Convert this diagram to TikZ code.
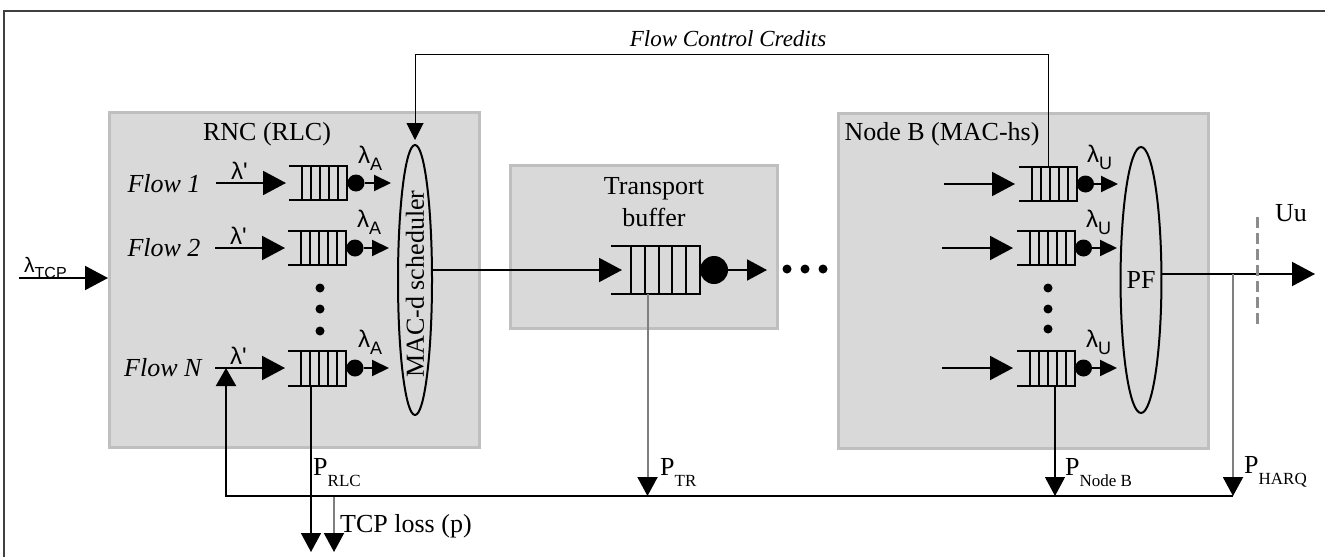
\documentclass[tikz,border=0pt]{standalone}
\usepackage{fontspec}
\setmainfont{Liberation Serif}
\newfontfamily\lsans{Liberation Sans}
\usetikzlibrary{arrows.meta,shapes.geometric,calc}
\definecolor{boxfill}{HTML}{D9D9D9}
\definecolor{boxline}{HTML}{BFBFBF}
\definecolor{lossgrey}{HTML}{7F7F7F}
\definecolor{uugrey}{HTML}{8C8C8C}
\definecolor{framegrey}{HTML}{404040}
\newcommand{\lamsub}[1]{{\lsans\fontsize{24}{24}\selectfont λ\raisebox{-7pt}{\fontsize{18}{18}\selectfont #1}}}
\newcommand{\lamprime}{{\lsans\fontsize{24}{24}\selectfont λ\textquotesingle}}
\newcommand{\Psub}[1]{{\fontsize{26}{26}\selectfont P\raisebox{-11pt}{\fontsize{17}{17}\selectfont #1}}}
\newcommand{\drawqueue}[5]{%
  \node[qnode, minimum width=#4pt, minimum height=#5pt] (#1) at (#2,#3) {};
  \draw[qline] (#1.north west) -- (#1.north east) -- (#1.south east) -- (#1.south west);
  \foreach \k in {1,...,5}{\draw[qline] ($(#1.north east)!\k*0.155!(#1.north west)$) -- ($(#1.south east)!\k*0.155!(#1.south west)$);}
}
\tikzset{
  every node/.style={font=\fontsize{26}{32}\selectfont},
  blockbox/.style={draw=boxline, fill=boxfill, line width=2.5pt, inner sep=0, anchor=north west},
  qnode/.style={inner sep=0, outer sep=0},
  qline/.style={line width=2pt},
  server/.style={circle, fill=black, inner sep=0, outer sep=0},
  dotnode/.style={circle, fill=black, inner sep=0, minimum size=9pt},
  schedshape/.style={ellipse, draw, line width=2pt, inner sep=0},
  bigarrow/.style={line width=2pt, -{Triangle[length=23pt,width=24pt]}},
  midarrow/.style={line width=2pt, -{Triangle[length=20pt,width=21pt]}},
  smallarrow/.style={line width=2pt, -{Triangle[length=17pt,width=16pt]}},
  fcline/.style={line width=1pt, -{Triangle[length=17pt,width=17pt]}},
  lossblack/.style={line width=1.6pt, -{Triangle[length=19pt,width=20pt]}},
  lossgreyline/.style={line width=2pt, draw=lossgrey, -{Triangle[length=19pt,width=20pt,color=black]}},
  fbline/.style={line width=2pt, -{Triangle[length=18pt,width=20pt]}},
  uuline/.style={line width=3pt, draw=uugrey, dash pattern=on 11pt off 5pt},
  itlabel/.style={font=\fontsize{26}{32}\selectfont\itshape},
}
\begin{document}
\begin{tikzpicture}[x=1pt,y=-1pt]
\useasboundingbox (0,0) rectangle (1325,557);
\fill[white] (0,0) rectangle (1325,557);
\draw[line width=1.5pt, framegrey] (4,557) -- (4,11) -- (1325,11);

% blocks
\node[blockbox, minimum width=370pt, minimum height=335pt] (rnc) at (108,111) {};
\node[blockbox, minimum width=267pt, minimum height=163pt] (tbuf) at (509,164) {};
\node[blockbox, minimum width=370pt, minimum height=335pt] (nodeb) at (837,112) {};

% titles
\node[anchor=base] (rnctitle) at (267,140) {RNC (RLC)};
\node[align=center] (tbtitle) at (654,202) {Transport\\buffer};
\node[anchor=base] (nbtitle) at (942,140) {Node B (MAC-hs)};
\node[font=\fontsize{23}{27}\selectfont\itshape, anchor=base] (fct) at (728,46) {Flow Control Credits};

% flow labels
\node[itlabel, anchor=base east] (flow1) at (204,192) {Flow 1};
\node[itlabel, anchor=base east] (flow2) at (204,256) {Flow 2};
\node[itlabel, anchor=base east] (flowN) at (205,376) {Flow N};

% queues
\drawqueue{q1}{318}{183}{58}{34}
\drawqueue{q2}{317}{248}{58}{34}
\drawqueue{qN}{317}{368}{58}{35}
\drawqueue{tq}{655.5}{270}{89}{48}
\drawqueue{nq1}{1048}{184}{58}{34}
\drawqueue{nq2}{1046}{248}{58}{34}
\drawqueue{nqN}{1046}{368}{58}{35}

% servers
\node[server, minimum size=17pt] (s1) at (356,183) {};
\node[server, minimum size=17pt] (s2) at (355,248) {};
\node[server, minimum size=17pt] (sN) at (355,368) {};
\node[server, minimum size=28pt] (ts) at (714,270) {};
\node[server, minimum size=17pt] (ns1) at (1085.5,184) {};
\node[server, minimum size=17pt] (ns2) at (1083.5,248) {};
\node[server, minimum size=17pt] (nsN) at (1083.5,368) {};

% dots
\node[dotnode] (d1) at (320,288) {};
\node[dotnode] (d2) at (320,309) {};
\node[dotnode] (d3) at (320,331) {};
\node[dotnode] (e1) at (1048,288) {};
\node[dotnode] (e2) at (1048,309) {};
\node[dotnode] (e3) at (1048,329) {};
\node[dotnode] (h1) at (787,269) {};
\node[dotnode] (h2) at (805,269) {};
\node[dotnode] (h3) at (823,269) {};

% schedulers
\node[schedshape, minimum width=34pt, minimum height=270pt] (sched) at (415,280) {};
\node[rotate=90] (schedtext) at (415,284) {MAC-d scheduler};
\node[schedshape, minimum width=40pt, minimum height=266pt] (pf) at (1141,280) {PF};

% lambda labels
\node[anchor=base west, inner sep=0] (ltcp) at (24,272) {{\lsans\fontsize{21}{21}\selectfont λ\raisebox{-6pt}{\fontsize{16}{16}\selectfont TCP}}};
\node[anchor=base west, inner sep=0] (lp1) at (231,179) {\lamprime};
\node[anchor=base west, inner sep=0] (lp2) at (230,244) {\lamprime};
\node[anchor=base west, inner sep=0] (lpN) at (230,364) {\lamprime};
\node[anchor=base west, inner sep=0] (la1) at (358,163) {\lamsub{A}};
\node[anchor=base west, inner sep=0] (la2) at (357,227) {\lamsub{A}};
\node[anchor=base west, inner sep=0] (laN) at (358,347) {\lamsub{A}};
\node[anchor=base west, inner sep=0] (lu1) at (1087,162) {\lamsub{U}};
\node[anchor=base west, inner sep=0] (lu2) at (1086,227) {\lamsub{U}};
\node[anchor=base west, inner sep=0] (luN) at (1086,347) {\lamsub{U}};

% coordinates
\coordinate (tcpstart) at (19,278);
\coordinate (nin1) at (944,184);
\coordinate (nin2) at (942,248);
\coordinate (ninN) at (942,368);
\coordinate (o1) at (391,183);
\coordinate (o2) at (389,248);
\coordinate (oN) at (389,368);
\coordinate (to) at (767,270);
\coordinate (no1) at (1118,184);
\coordinate (no2) at (1117,248);
\coordinate (noN) at (1117,368);
\coordinate (fcy) at (0,54);
\coordinate (uuend) at (1315,274);
\coordinate (uut) at (1257,217);
\coordinate (uub) at (1257,328);
\coordinate (rlcend) at (311,552);
\coordinate (tcpls) at (334,496);
\coordinate (tcplend) at (334,552);
\coordinate (ptr) at (647.5,496);
\coordinate (pnb) at (1055,496);
\coordinate (harqs) at (1233,274);
\coordinate (pharq) at (1233,496);
\coordinate (fbc) at (226,496);

% input arrows
\draw[bigarrow] (tcpstart) -- (rnc.west |- tcpstart);
\draw[bigarrow] ([xshift=12pt]flow1.east |- q1.west) -- ([xshift=-3pt]q1.west);
\draw[bigarrow] ([xshift=11pt]flow2.east |- q2.west) -- ([xshift=-3pt]q2.west);
\draw[bigarrow] ([xshift=10pt]flowN.east |- qN.west) -- ([xshift=-3pt]qN.west);
\draw[bigarrow] (nin1) -- ([xshift=-4pt]nq1.west);
\draw[bigarrow] (nin2) -- ([xshift=-4pt]nq2.west);
\draw[bigarrow] (ninN) -- ([xshift=-4pt]nqN.west);

% output arrows
\draw[smallarrow] (s1.east) -- (o1);
\draw[smallarrow] (s2.east) -- (o2);
\draw[smallarrow] (sN.east) -- (oN);
\draw[smallarrow] (ns1.east) -- (no1);
\draw[smallarrow] (ns2.east) -- (no2);
\draw[smallarrow] (nsN.east) -- (noN);
\draw[midarrow] (ts.east) -- (to);

% scheduler to transport
\draw[bigarrow] (sched.east |- tq.west) -- ([xshift=11pt]tq.west);

% flow control credits
\draw[fcline] (nq1.north) -- (nq1.north |- fcy) -- (sched.north |- fcy) -- ([yshift=4pt]sched.north);

% PF output and Uu
\draw[bigarrow] (pf.east |- uuend) -- (uuend);
\draw[uuline] (uut) -- (uub);
\node (uu) at (1291,213) {Uu};

% loss lines
\draw[lossblack] ([xshift=-6pt]qN.south) -- (rlcend);
\draw[lossgreyline] (tcpls) -- (tcplend);
\draw[lossgreyline] ([xshift=-8pt]tq.south) -- (ptr);
\draw[lossblack, line width=1.2pt] ([xshift=9pt]nqN.south) -- (pnb);
\draw[lossgreyline] (harqs) -- (pharq);

% feedback
\draw[fbline] (pharq) -- (fbc) -- (fbc |- qN.west);

% P labels
\node[anchor=base west, inner sep=0] (prlc) at (313,475) {\Psub{RLC}};
\node[anchor=base west, inner sep=0] (ptrl) at (660,475) {\Psub{TR}};
\node[anchor=base west, inner sep=0] (pnbl) at (1065,475) {\Psub{Node B}};
\node[anchor=base west, inner sep=0] (pharql) at (1244,473) {\Psub{HARQ}};
\node[anchor=base west, inner sep=0] (tcploss) at (340,532) {TCP loss (p)};
\end{tikzpicture}
\end{document}
